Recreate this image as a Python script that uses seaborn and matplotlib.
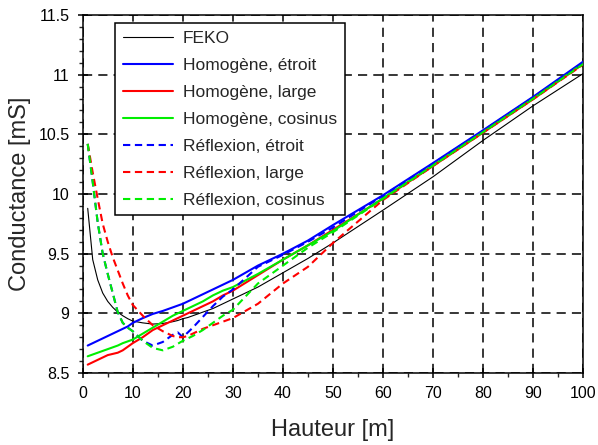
import numpy as np
import pandas as pd
import matplotlib
matplotlib.use("Agg")
import matplotlib.pyplot as plt
import seaborn as sns
from matplotlib.ticker import MultipleLocator, FormatStrFormatter

# Hauteur [m]
hauteur = [1, 2, 3, 4, 5, 6, 7, 8, 9, 10, 12, 14, 16, 18, 19, 20, 21, 22, 24, 26, 28, 30,
           35, 40, 45, 50, 60, 70, 80, 90, 100]

# Conductance [mS]
feko = [9.88, 9.45, 9.28, 9.17, 9.10, 9.05, 9.01, 8.98, 8.955, 8.935, 8.92, 8.91, 8.915, 8.93, 8.94,
        8.955, 8.965, 8.98, 9.01, 9.04, 9.08, 9.12, 9.22, 9.34, 9.46, 9.59, 9.865, 10.145, 10.45,
        10.74, 11.01]
homo_etroit = [8.73, 8.75, 8.77, 8.79, 8.81, 8.83, 8.85, 8.87, 8.89, 8.92, 8.96, 8.995, 9.02, 9.05,
               9.065, 9.08, 9.10, 9.12, 9.16, 9.20, 9.24, 9.28, 9.40, 9.50, 9.61, 9.74, 9.99, 10.26,
               10.535, 10.815, 11.11]
homo_large = [8.57, 8.59, 8.61, 8.63, 8.65, 8.66, 8.67, 8.69, 8.72, 8.75, 8.80, 8.86, 8.90, 8.94,
              8.96, 8.98, 9.00, 9.02, 9.06, 9.10, 9.15, 9.19, 9.32, 9.45, 9.57, 9.70, 9.96, 10.235,
              10.515, 10.795, 11.09]
homo_cosinus = [8.64, 8.655, 8.67, 8.685, 8.70, 8.715, 8.73, 8.75, 8.765, 8.78, 8.83, 8.88, 8.93,
                8.98, 9.00, 9.02, 9.04, 9.06, 9.10, 9.15, 9.19, 9.22, 9.33, 9.45, 9.57, 9.69, 9.965,
                10.24, 10.52, 10.80, 11.095]
refl_etroit = [10.42, 10.10, 9.76, 9.50, 9.33, 9.17, 9.01, 8.92, 8.88, 8.85, 8.77, 8.73, 8.76, 8.82,
               8.84, 8.80, 8.84, 8.88, 8.97, 9.06, 9.14, 9.20, 9.39, 9.49, 9.60, 9.72, 9.985, 10.255,
               10.53, 10.81, 11.10]
refl_large = [10.42, 10.18, 9.96, 9.75, 9.60, 9.47, 9.36, 9.25, 9.15, 9.07, 8.98, 8.90, 8.85, 8.81,
              8.80, 8.80, 8.81, 8.83, 8.87, 8.90, 8.93, 8.96, 9.08, 9.25, 9.39, 9.59, 9.95, 10.235,
              10.515, 10.795, 11.085]
refl_cosinus = [10.42, 10.10, 9.76, 9.50, 9.33, 9.17, 9.01, 8.92, 8.88, 8.85, 8.77, 8.71, 8.69, 8.72,
                8.745, 8.77, 8.79, 8.81, 8.86, 8.92, 8.98, 9.03, 9.25, 9.40, 9.55, 9.68, 9.96, 10.24,
                10.52, 10.80, 11.09]

series = [
    ("FEKO", feko, "black", "-"),
    ("Homogène, étroit", homo_etroit, "#0000ff", "-"),
    ("Homogène, large", homo_large, "#ff0000", "-"),
    ("Homogène, cosinus", homo_cosinus, "#00ee00", "-"),
    ("Réflexion, étroit", refl_etroit, "#0000ff", "--"),
    ("Réflexion, large", refl_large, "#ff0000", "--"),
    ("Réflexion, cosinus", refl_cosinus, "#00ee00", "--"),
]

sns.set_style("white")
plt.rcParams["font.family"] = ["Liberation Sans", "DejaVu Sans"]

fig = plt.figure(figsize=(5.98, 4.45), dpi=100)
ax = fig.add_axes([0.1383, 0.1618, 0.8371, 0.8045])

for nom, valeurs, couleur, style in series:
    df = pd.DataFrame({"x": hauteur, "y": valeurs})
    if style == "-":
        ls = "-"
    else:
        ls = (0, (3.5, 2.2))
    lw = 0.8 if nom == "FEKO" else 1.5
    sns.lineplot(data=df, x="x", y="y", color=couleur, linestyle=ls, linewidth=lw,
                 label=nom, ax=ax, zorder=3)

ax.set_xlim(0, 100)
ax.set_ylim(8.5, 11.5)
ax.xaxis.set_major_locator(MultipleLocator(10))
ax.xaxis.set_minor_locator(MultipleLocator(5))
ax.yaxis.set_major_locator(MultipleLocator(0.5))
ax.yaxis.set_minor_locator(MultipleLocator(0.1))
ax.yaxis.set_major_formatter(FormatStrFormatter("%g"))

ax.grid(True, which="major", color="black", linestyle=(0, (6, 4)), linewidth=1.1, zorder=1)
ax.set_axisbelow(True)

ax.tick_params(axis="both", which="major", direction="inout", length=7, width=1.1,
               labelsize=11.5, colors="black", pad=6, bottom=True, left=True)
ax.tick_params(axis="both", which="minor", direction="out", length=3, width=1.0,
               bottom=True, left=True)

for sp in ax.spines.values():
    sp.set_color("black")
    sp.set_linewidth(1.1)

ax.set_xlabel("Hauteur [m]", fontsize=17, labelpad=13)
ax.set_ylabel("Conductance [mS]", fontsize=17, labelpad=5)

leg = ax.legend(loc="upper left", bbox_to_anchor=(0.0645, 0.978), borderaxespad=0,
                fontsize=12.5, frameon=True, fancybox=False, edgecolor="black",
                framealpha=1, handlelength=2.9, handletextpad=0.55, labelspacing=0.68,
                borderpad=0.45)
leg.get_frame().set_linewidth(1.1)
leg.set_zorder(5)

fig.savefig("out.png", dpi=100)
